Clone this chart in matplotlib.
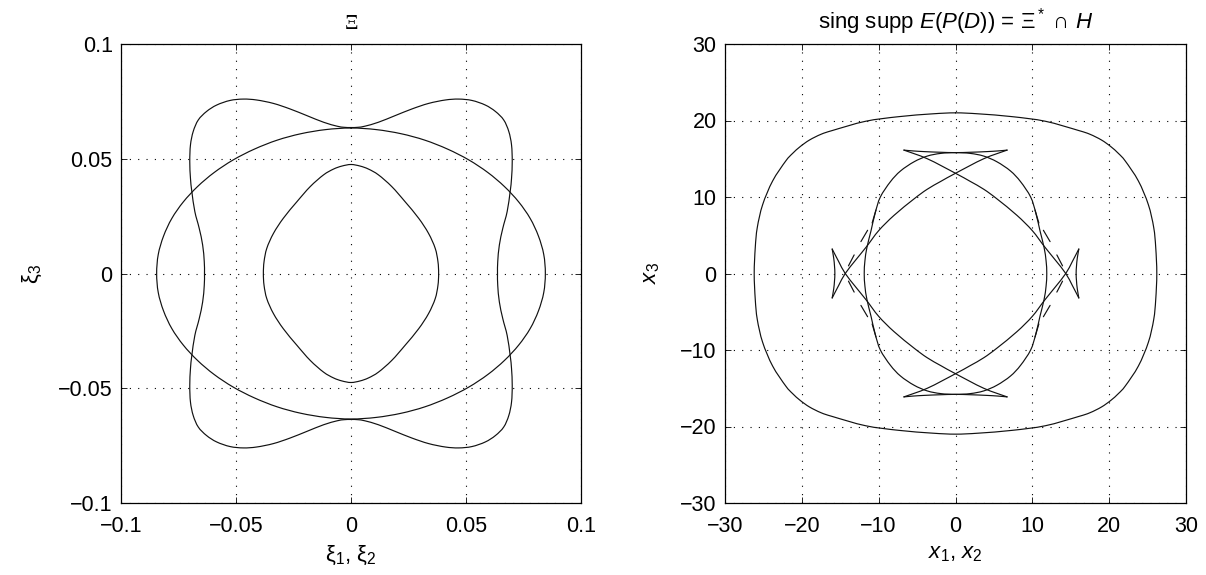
import numpy as np
import matplotlib
matplotlib.use('Agg')
import matplotlib.pyplot as plt
from matplotlib.path import Path
from matplotlib.patches import PathPatch

plt.rcParams['font.family'] = ['Liberation Sans', 'DejaVu Sans']
plt.rcParams['mathtext.fontset'] = 'custom'
plt.rcParams['mathtext.rm'] = 'Liberation Sans'
plt.rcParams['mathtext.it'] = 'Liberation Sans:italic'
plt.rcParams['mathtext.bf'] = 'Liberation Sans:bold'

# ---------------- data (first quadrant) ----------------
# Left panel: sections of the slowness surface Xi
ell_x = [0.0, 0.0110, 0.0218, 0.0321, 0.0420, 0.0512, 0.0595, 0.0667, 0.0729,
         0.0779, 0.0815, 0.0838, 0.0845]
ell_y = [0.0634, 0.0627, 0.0609, 0.0581, 0.0542, 0.0495, 0.0440, 0.0379, 0.0312,
         0.0240, 0.0163, 0.0083, 0.0]

flower_x = [0.0, 0.0030, 0.0061, 0.0119, 0.0192, 0.0265, 0.0337, 0.0410, 0.0468,
            0.0526, 0.0584, 0.0628, 0.0664, 0.0686, 0.0698, 0.0701, 0.0698,
            0.0692, 0.0679, 0.0660, 0.0645, 0.0638, 0.0637]
flower_y = [0.0636, 0.0637, 0.0642, 0.0659, 0.0688, 0.0717, 0.0741, 0.0756, 0.0760,
            0.0754, 0.0734, 0.0706, 0.0669, 0.0619, 0.0560, 0.0488, 0.0415,
            0.0357, 0.0270, 0.0197, 0.0124, 0.0052, 0.0]

diamond_x = [0.0, 0.0040, 0.0076, 0.0119, 0.0177, 0.0235, 0.0294, 0.0337, 0.0366,
             0.0378, 0.0381]
diamond_y = [0.0475, 0.0468, 0.0455, 0.0430, 0.0379, 0.0313, 0.0241, 0.0175, 0.0110,
             0.0052, 0.0]

# Right panel: sing supp E(P(D))
outer_x = [0.0, 3.0, 7.4, 11.7, 16.0, 17.5, 19.0, 20.2, 21.2, 22.1, 23.8, 25.1,
           25.8, 26.06, 26.2]
outer_y = [21.0, 20.87, 20.5, 19.9, 18.7, 18.2, 17.45, 16.6, 15.7, 14.7, 12.1, 9.0,
           6.0, 3.4, 0.0]

oval_x = [0.0, 1.92, 3.67, 5.4, 7.16, 8.47, 9.78, 10.44, 11.0, 11.53, 11.79, 11.88]
oval_y = [15.8, 15.7, 15.35, 14.6, 13.4, 12.0, 10.0, 7.96, 5.57, 3.39, 1.65, 0.0]

leg_x = [-6.72, -3.67, 0.0, 1.9, 3.7, 5.4, 8.0, 10.0, 11.55, 13.0, 14.35, 15.2, 16.05]
leg_y = [16.13, 15.0, 13.1, 12.05, 11.0, 9.75, 7.6, 5.6, 3.55, 1.75, 0.0, -1.55, -3.2]

top_edge_x = [0.0, 2.0, 4.0, 5.5, 6.72]
top_edge_y = [15.8, 15.85, 15.93, 16.02, 16.13]

side_edge_y = [0.0, 1.0, 2.0, 3.2]
side_edge_x = [15.7, 15.75, 15.85, 16.05]

dash_x0 = [11.44, 13.19, 10.35]
dash_y0 = [5.65, 2.43, 8.30]
dash_x1 = [12.31, 13.93, 10.85]
dash_y1 = [4.17, 1.00, 6.60]

left_ticks = [-0.1, -0.05, 0, 0.05, 0.1]
left_ticklabels = ['\u22120.1', '\u22120.05', '0', '0.05', '0.1']
right_ticks = [-30, -20, -10, 0, 10, 20, 30]
right_ticklabels = ['\u221230', '\u221220', '\u221210', '0', '10', '20', '30']

# ---------------- helpers ----------------
def bezier_path(x, y, closed=False):
    P = np.column_stack([x, y]).astype(float)
    keep = np.ones(len(P), bool)
    keep[1:] = np.any(np.abs(np.diff(P, axis=0)) > 1e-12, axis=1)
    P = P[keep]
    if closed and np.allclose(P[0], P[-1]):
        P = P[:-1]
    n = len(P)
    verts = [P[0]]
    codes = [Path.MOVETO]
    segs = n if closed else n - 1
    for i in range(segs):
        p1 = P[i]
        p2 = P[(i + 1) % n]
        if closed:
            p0 = P[(i - 1) % n]
            p3 = P[(i + 2) % n]
        else:
            p0 = P[i - 1] if i > 0 else P[i]
            p3 = P[i + 2] if i + 2 < n else P[i + 1]
        c1 = p1 + (p2 - p0) / 6.0
        c2 = p2 - (p3 - p1) / 6.0
        verts += [c1, c2, p2]
        codes += [Path.CURVE4] * 3
    return Path(verts, codes)


def full_loop(x, y):
    x = np.asarray(x, float)
    y = np.asarray(y, float)
    X = np.concatenate([x, x[::-1], -x, -x[::-1]])
    Y = np.concatenate([y, -y[::-1], -y, y[::-1]])
    return X, Y


LW = 0.85
COL = '#111111'


def draw(ax, x, y, closed=False):
    ax.add_patch(PathPatch(bezier_path(x, y, closed), fill=False, lw=LW,
                           edgecolor=COL, zorder=3, capstyle='round',
                           joinstyle='round'))


def style_axes(ax, ticks, labels, lim):
    ax.set_xlim(lim)
    ax.set_ylim(lim)
    ax.set_xticks(ticks)
    ax.set_yticks(ticks)
    ax.set_xticklabels(labels)
    ax.set_yticklabels(labels)
    ax.grid(True, color='black', linestyle=(0, (1, 6.5)), linewidth=0.8)
    ax.set_axisbelow(True)
    ax.tick_params(axis='both', direction='in', length=4, width=0.6,
                   labelsize=15.5, top=True, right=True)
    ax.tick_params(axis='x', pad=9)
    ax.tick_params(axis='y', pad=6)
    for s in ax.spines.values():
        s.set_linewidth(0.9)
        s.set_color('black')


fig = plt.figure(figsize=(12.06, 5.75), dpi=100)
axL = fig.add_axes([121 / 1206, 72 / 575, 460 / 1206, 459 / 575])
axR = fig.add_axes([725 / 1206, 72 / 575, 461 / 1206, 459 / 575])

# ---------------- left panel ----------------
style_axes(axL, left_ticks, left_ticklabels, (-0.1, 0.1))
for xs, ys in [(ell_x, ell_y), (flower_x, flower_y), (diamond_x, diamond_y)]:
    X, Y = full_loop(xs, ys)
    draw(axL, X, Y, closed=True)
axL.set_title('\u039e', fontsize=15, pad=11, family=['Liberation Serif', 'DejaVu Serif'])
axL.set_xlabel('\u03be$_1$, \u03be$_2$', fontsize=16, labelpad=5)
axL.set_ylabel('\u03be$_3$', fontsize=16, labelpad=10)

# ---------------- right panel ----------------
style_axes(axR, right_ticks, right_ticklabels, (-30, 30))
for xs, ys in [(outer_x, outer_y), (oval_x, oval_y)]:
    X, Y = full_loop(xs, ys)
    draw(axR, X, Y, closed=True)

lx = np.asarray(leg_x)
ly = np.asarray(leg_y)
tx = np.asarray(top_edge_x)
ty = np.asarray(top_edge_y)
sx_ = np.asarray(side_edge_x)
sy_ = np.asarray(side_edge_y)
full_top_x = np.concatenate([-tx[::-1], tx[1:]])
full_top_y = np.concatenate([ty[::-1], ty[1:]])
full_side_x = np.concatenate([sx_[::-1], sx_[1:]])
full_side_y = np.concatenate([-sy_[::-1], sy_[1:]])
for sx in (1, -1):
    for sy in (1, -1):
        draw(axR, sx * lx, sy * ly)
for sy in (1, -1):
    draw(axR, full_top_x, sy * full_top_y)
for sx in (1, -1):
    draw(axR, sx * full_side_x, full_side_y)

for a0, b0, a1, b1 in zip(dash_x0, dash_y0, dash_x1, dash_y1):
    for sx in (1, -1):
        for sy in (1, -1):
            axR.plot([sx * a0, sx * a1], [sy * b0, sy * b1], color=COL, lw=LW,
                     solid_capstyle='round', zorder=3)

axR.set_title(r'sing supp $\mathit{E(P(D))}$ = $\Xi^*$ $\cap$ $\mathit{H}$',
              fontsize=16, pad=11)
axR.set_xlabel('$x_1$, $x_2$', fontsize=16, labelpad=5)
axR.set_ylabel('$x_3$', fontsize=16, labelpad=13)

fig.savefig('out.png', dpi=100)
